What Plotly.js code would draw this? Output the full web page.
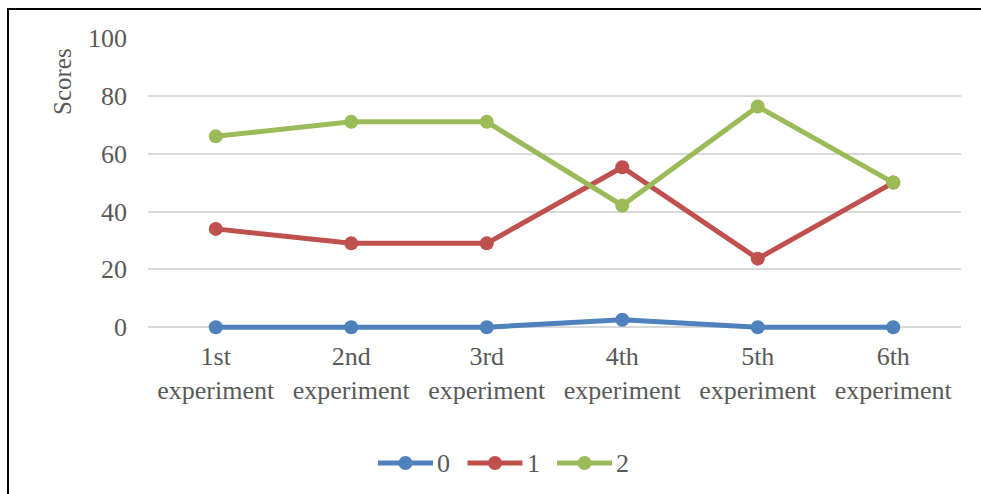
<!DOCTYPE html>
<html>
<head>
<meta charset="utf-8">
<script src="https://cdn.plot.ly/plotly-3.0.1.min.js"></script>
<style>
  html, body { margin: 0; padding: 0; background: #fff; }
  #wrap { position: relative; width: 981px; height: 494px; overflow: hidden; }
  #chart { position: absolute; left: 0; top: 0; width: 981px; height: 494px; }
  #frame { position: absolute; left: 7px; top: 8px; width: 990px; height: 500px;
           border-left: 2px solid #000; border-top: 2px solid #000; pointer-events: none; }
</style>
</head>
<body>
<div id="wrap">
  <div id="chart"></div>
  <div id="frame"></div>
</div>
<script>
// Experiment categories (two-line tick labels)
const categories = [
  '1st<br>experiment', '2nd<br>experiment', '3rd<br>experiment',
  '4th<br>experiment', '5th<br>experiment', '6th<br>experiment'
];

// Score shares per group
const series0 = [0, 0, 0, 2.6, 0, 0];
const series1 = [34, 29, 29, 55.3, 23.7, 50];
const series2 = [66, 71, 71, 42.1, 76.3, 50];

const seriesNames = ['0', '1', '2'];
const seriesColors = ['#4F81BD', '#C0504D', '#9BBB59'];
const yTicks = [0, 20, 40, 60, 80, 100];

const FONT = 'Liberation Serif, Times New Roman, serif';
const GREY = '#595959';

const W = 981, H = 494;
const M = { l: 148, r: 20, t: 38, b: 161 };

// pixel -> paper helpers for the hand-drawn legend
const px = x => (x - M.l) / (W - M.l - M.r);
const py = y => (H - M.b - y) / (H - M.t - M.b);

const traces = [series0, series1, series2].map((vals, i) => ({
  type: 'scatter',
  mode: 'lines+markers',
  x: categories,
  y: vals,
  name: seriesNames[i],
  cliponaxis: false,
  line: { color: seriesColors[i], width: 5 },
  marker: { color: seriesColors[i], size: 14 },
  hoverinfo: 'x+y+name'
}));

// Legend: line + dot + label for each series, centred under the plot
const shapes = [];
const annotations = [];
const legendY = 463, legendX0 = 378, itemStep = 89.5, lineLen = 55;
seriesNames.forEach((name, i) => {
  const x0 = legendX0 + i * itemStep;
  shapes.push({
    type: 'line', xref: 'paper', yref: 'paper',
    x0: px(x0), x1: px(x0 + lineLen), y0: py(legendY), y1: py(legendY),
    line: { color: seriesColors[i], width: 5 }
  });
  shapes.push({
    type: 'circle', xref: 'paper', yref: 'paper',
    x0: px(x0 + lineLen / 2 - 7), x1: px(x0 + lineLen / 2 + 7),
    y0: py(legendY + 7), y1: py(legendY - 7),
    fillcolor: seriesColors[i], line: { width: 0 }
  });
  annotations.push({
    text: name, xref: 'paper', yref: 'paper',
    x: px(x0 + lineLen + 2), y: py(legendY + 1),
    xanchor: 'left', yanchor: 'middle', showarrow: false,
    font: { family: FONT, size: 26, color: GREY }
  });
});

annotations.push({
  text: 'Scores',
  xref: 'paper', yref: 'paper',
  x: px(62), y: py(82),
  xanchor: 'center', yanchor: 'middle',
  textangle: -90,
  showarrow: false,
  font: { family: FONT, size: 25, color: GREY }
});

const layout = {
  width: W,
  height: H,
  margin: { l: M.l, r: M.r, t: M.t, b: M.b, autoexpand: false },
  paper_bgcolor: '#ffffff',
  plot_bgcolor: '#ffffff',
  font: { family: FONT, size: 26, color: GREY },
  showlegend: false,
  xaxis: {
    type: 'category',
    range: [-0.5, 5.5],
    automargin: false,
    showgrid: false,
    zeroline: false,
    showline: false,
    ticks: '',
    ticklabelstandoff: 5,
    tickfont: { family: FONT, size: 26, color: GREY },
    fixedrange: true
  },
  yaxis: {
    range: [-2, 100],
    automargin: false,
    tickvals: yTicks,
    ticktext: yTicks.map(String),
    showgrid: true,
    gridcolor: '#D9D9D9',
    gridwidth: 2,
    zeroline: false,
    showline: false,
    ticks: '',
    ticklabelstandoff: 20,
    tickfont: { family: FONT, size: 26, color: GREY },
    fixedrange: true
  },
  shapes: shapes,
  annotations: annotations
};

Plotly.newPlot('chart', traces, layout, { displayModeBar: false, staticPlot: true });
</script>
</body>
</html>
